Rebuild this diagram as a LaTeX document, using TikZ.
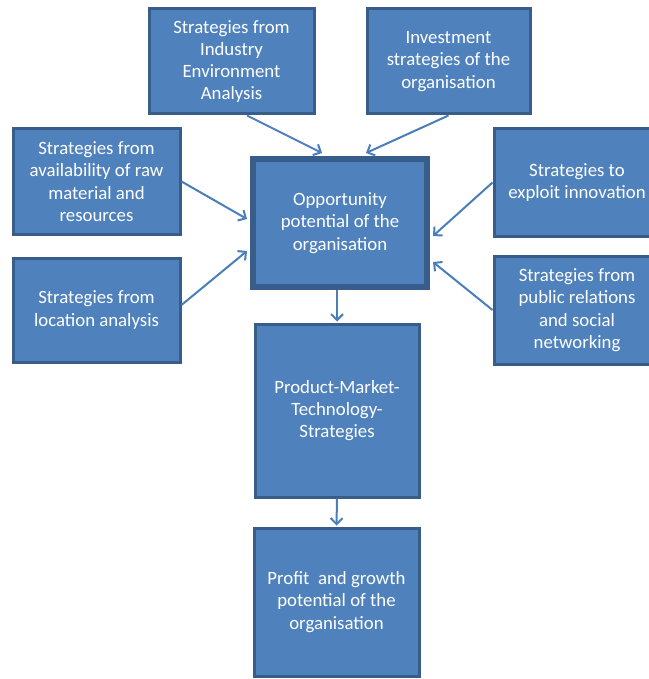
\documentclass[tikz,border=0pt]{standalone}
\usepackage{fontspec}
\setmainfont{Carlito}
\usetikzlibrary{arrows.meta,calc}
\definecolor{boxfill}{HTML}{4F81BD}
\definecolor{boxline}{HTML}{385D8A}
\definecolor{arrowcol}{HTML}{4A7EBB}
\tikzset{
  box/.style={draw=boxline, fill=boxfill, line width=3pt, text=white, align=center,
    inner sep=0pt, font=\fontsize{18.8}{22.3}\selectfont},
  bigbox/.style={box, line width=6pt},
  conn/.style={draw=arrowcol, line width=2pt,
    -{Straight Barb[length=6pt,width=12pt,line width=2pt]}}
}
\begin{document}
\begin{tikzpicture}[x=1pt,y=-1pt]
\useasboundingbox (0,0) rectangle (648,679);
\node[box, minimum width=165pt, minimum height=105pt] (iea) at (231.5,61.5)
  {Strategies from\\Industry\\Environment\\Analysis};
\node[box, minimum width=163pt, minimum height=105pt] (inv) at (448.5,61.5)
  {Investment\\strategies of the\\organisation};
\node[box, minimum width=167pt, minimum height=105pt] (raw) at (96.5,181.5)
  {Strategies from\\availability of raw\\material and\\resources};
\node[box, minimum width=167pt, minimum height=104pt] (loc) at (96.5,310)
  {Strategies from\\location analysis};
\node[bigbox, minimum width=174pt, minimum height=128pt] (opp) at (340,223)
  {Opportunity\\potential of the\\organisation};
\node[box, minimum width=166pt, minimum height=107pt] (inn) at (577,182.5)
  {Strategies to\\exploit innovation};
\node[box, minimum width=166pt, minimum height=108pt] (pr) at (577,310)
  {Strategies from\\public relations\\and social\\networking};
\node[box, minimum width=164pt, minimum height=173pt] (pmt) at (337,410.5)
  {Product-Market-\\Technology-\\Strategies};
\node[box, minimum width=165pt, minimum height=148pt] (prof) at (336.5,602)
  {Profit\ \ and growth\\potential of the\\organisation};
\draw[conn] ($(iea.south)+(15.5,0)$) -- ($(opp.north)+(-18,-3)$);
\draw[conn] (inv.south) -- ($(opp.north)+(26,-3)$);
\draw[conn] (raw.east) -- ($(opp.west)+(-3,-4)$);
\draw[conn] ($(loc.east)+(0,-5)$) -- ($(opp.west)+(-3,28)$);
\draw[conn] (inn.west) -- ($(opp.east)+(3,13)$);
\draw[conn] (pr.west) -- ($(opp.east)+(3,39)$);
\draw[conn] (pmt.north |- opp.south) -- ($(pmt.north)+(0,-1)$);
\draw[conn] (pmt.south) -- ($(prof.north)+(0,-1)$);
\end{tikzpicture}
\end{document}
